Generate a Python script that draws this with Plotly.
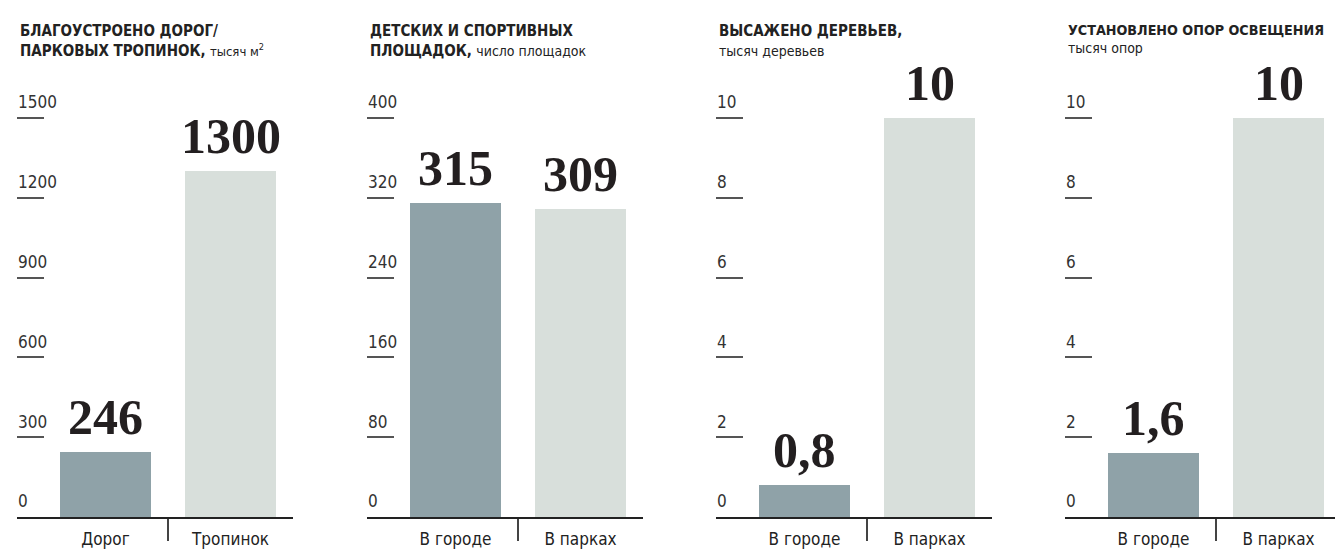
import plotly.graph_objects as go

# ---------------- data ----------------
titles = [
    "<b>БЛАГОУСТРОЕНО ДОРОГ/</b><br><b>ПАРКОВЫХ ТРОПИНОК,</b> <span style='font-size:13px'>тысяч м<sup>2</sup></span>",
    "<b>ДЕТСКИХ И СПОРТИВНЫХ</b><br><b>ПЛОЩАДОК,</b> <span style='font-size:14px'>число площадок</span>",
    "<b>ВЫСАЖЕНО ДЕРЕВЬЕВ,</b><br><span style='font-size:14px'>тысяч деревьев</span>",
    "<b>УСТАНОВЛЕНО ОПОР ОСВЕЩЕНИЯ</b><br><span style='font-size:14px'>тысяч опор</span>",
]
categories_roads = ["Дорог", "Тропинок"]
categories_city = ["В городе", "В парках"]
categories = [categories_roads, categories_city, categories_city, categories_city]

values_roads = [246, 1300]
values_playgrounds = [315, 309]
values_trees = [0.8, 10]
values_lights = [1.6, 10]
values = [values_roads, values_playgrounds, values_trees, values_lights]

labels_roads = ["246", "1300"]
labels_playgrounds = ["315", "309"]
labels_trees = ["0,8", "10"]
labels_lights = ["1,6", "10"]
value_labels = [labels_roads, labels_playgrounds, labels_trees, labels_lights]

ticks_roads = [0, 300, 600, 900, 1200, 1500]
ticks_playgrounds = [0, 80, 160, 240, 320, 400]
ticks_trees = [0, 2, 4, 6, 8, 10]
ticks_lights = [0, 2, 4, 6, 8, 10]
yticks = [ticks_roads, ticks_playgrounds, ticks_trees, ticks_lights]

# ---------------- layout constants ----------------
W, H = 1335, 560
panel_left = [17, 367, 716, 1065]
panel_width = 276
title_sizes = [15, 15, 15, 14.2]
unit_px = 125.0          # distance between bar centres
bar_left_offset = 43     # from panel left to first bar edge
bar_w = 91
y_zero_px = 517
y_top_tick_px = 118
y_domain_top_px = 60

bar_colors = ["#8fa2a8", "#d8dfdb"]
axis_font = "DejaVu Sans Condensed, Liberation Sans Narrow, Roboto, sans-serif"
value_font = "Liberation Serif, DejaVu Serif, serif"

fig = go.Figure()
annotations = []

for i in range(4):
    n = "" if i == 0 else str(i + 1)
    xa = "xaxis" + n
    ya = "yaxis" + n
    left = panel_left[i]
    right = min(left + panel_width, W)
    c0 = left + bar_left_offset + bar_w / 2.0
    xr = [(left - c0) / unit_px, (right - c0) / unit_px]
    top_tick = yticks[i][-1]
    y_max = top_tick * (y_zero_px - y_domain_top_px) / (y_zero_px - y_top_tick_px)

    fig.add_trace(go.Bar(
        x=[0, 1], y=values[i],
        marker=dict(color=bar_colors, line=dict(width=0)),
        width=bar_w / unit_px,
        xaxis="x" + n, yaxis="y" + n,
        hoverinfo="skip", showlegend=False,
    ))

    fig.update_layout(**{
        xa: dict(
            domain=[left / W, right / W],
            range=xr,
            tickvals=[0, 1], ticktext=categories[i],
            showline=True, linecolor="#222", linewidth=2,
            ticks="", showgrid=False, zeroline=False,
            tickfont=dict(family=axis_font, size=17, color="#222"),
            ticklabelstandoff=6,
            minor=dict(tickvals=[0.5], ticks="outside", ticklen=22,
                       tickwidth=2, tickcolor="#444", showgrid=False),
            anchor="y" + n, fixedrange=True,
        ),
        ya: dict(
            domain=[(H - y_zero_px) / H, (H - y_domain_top_px) / H],
            range=[0, y_max],
            tickvals=yticks[i],
            ticks="inside", ticklen=27, tickwidth=1.5, tickcolor="#555",
            ticklabelposition="inside top",
            ticklabelstandoff=-2, ticklabelshift=-3,
            showline=False, showgrid=False, zeroline=False,
            tickfont=dict(family=axis_font, size=17, color="#333"),
            anchor="x" + n, fixedrange=True,
        ),
    })

    for j in range(2):
        annotations.append(dict(
            x=j, y=values[i][j], xref="x" + n, yref="y" + n,
            text=value_labels[i][j], showarrow=False,
            xanchor="center", yanchor="bottom", yshift=5,
            font=dict(family=value_font, size=50, color="#231f20", weight="bold"),
        ))

    annotations.append(dict(
        x=(left + 1) / W, y=1 - 20 / H, xref="paper", yref="paper",
        text=titles[i], showarrow=False, xanchor="left", yanchor="top",
        align="left",
        font=dict(family=axis_font, size=title_sizes[i], color="#222"),
    ))

fig.update_layout(
    width=W, height=H,
    margin=dict(l=0, r=0, t=0, b=0),
    paper_bgcolor="white", plot_bgcolor="white",
    annotations=annotations,
    bargap=0,
)

fig.write_html("out.html", config={"displayModeBar": False},
               post_script="document.body.style.margin='0px';")
